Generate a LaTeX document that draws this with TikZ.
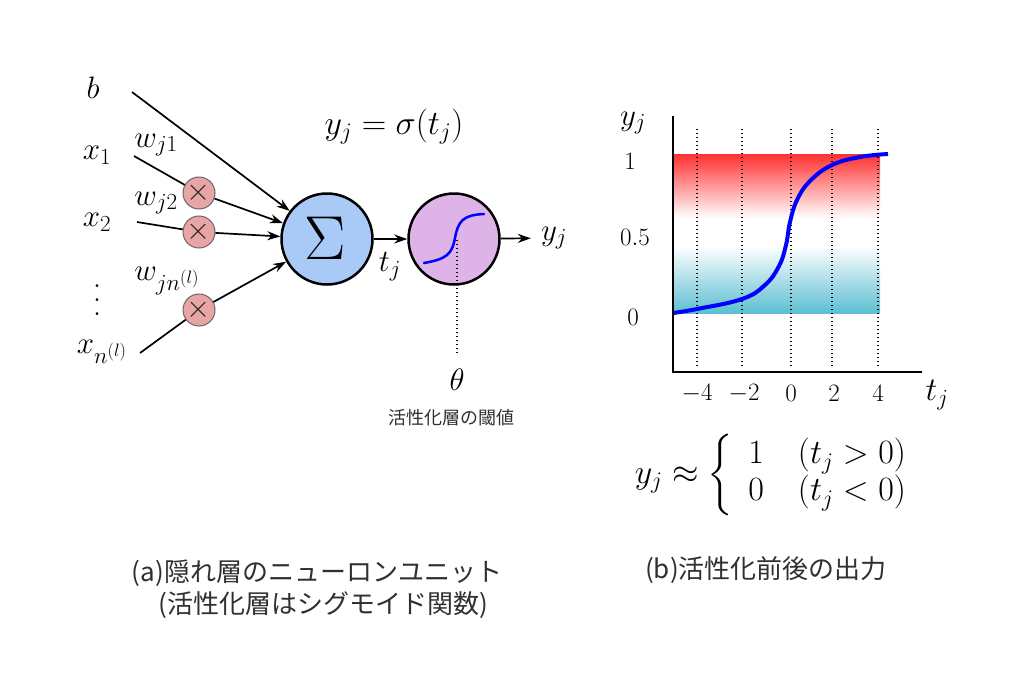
\RequirePackage{fix-cm}
\documentclass[tikz,border=0pt]{standalone}
\usepackage{fontspec}
\usetikzlibrary{arrows.meta}
\DeclareFontShape{OMX}{cmex}{m}{n}{<->cmex10}{}
\DeclareMathSizes{31}{31}{23}{18}
\newfontfamily\jp{Noto Sans CJK JP}
\newcommand\fsz[1]{\fontsize{#1}{#1}\selectfont}
\newcommand\myvdots{\vbox{\baselineskip14pt\lineskiplimit0pt\hbox{.}\hbox{.}\hbox{.}}}
\definecolor{sigblue}{HTML}{A9C9F7}
\definecolor{sigpurple}{HTML}{DDB3E8}
\definecolor{mulpink}{HTML}{E7A5A6}
\definecolor{gradred}{HTML}{FF3030}
\definecolor{gradcyan}{HTML}{5CBED2}
\definecolor{captext}{HTML}{303030}
\begin{document}
\begin{tikzpicture}[x=1pt,y=1pt,
  lbl/.style={inner sep=0pt, font=\fsz{31}},
  ticklbl/.style={inner sep=0pt, font=\fsz{25}},
  captxt/.style={inner sep=0pt, font=\jp\fsz{26}, text=captext},
  wire/.style={line width=1.7pt},
  arr/.style={line width=1.7pt, -{Stealth[length=13pt,width=9pt]}},
  mulc/.style={circle, draw=black!60, line width=1pt, fill=mulpink, minimum size=32pt, inner sep=0pt, font=\fsz{31}, text=black!85},
  bigc/.style={circle, draw=black, line width=2.5pt, minimum size=91pt, inner sep=0pt},
  gridln/.style={line width=1.3pt, dash pattern=on 1.3pt off 2.7pt},
  sigcurve/.style={blue, line width=2.5pt, line cap=round}
]
\useasboundingbox (0,0) rectangle (1024,-694);

% ---------- left: neuron ----------
\node[lbl] (b)  at (93,-88)  {$b$};
\node[lbl] (x1) at (97,-155) {$x_1$};
\node[lbl] (x2) at (97,-222) {$x_2$};
\node[inner sep=0pt, font=\fsz{34}] (vd) at (97,-300) {\myvdots};
\node[lbl] (xn) at (102,-352) {$x_{n^{(l)}}$};

\coordinate (bs)  at (132,-92);
\coordinate (x1s) at (134,-156);
\coordinate (x2s) at (137,-222);
\coordinate (xns) at (140,-353);

\node[lbl] (w1) at (156,-145) {$w_{j1}$};
\node[lbl] (w2) at (156,-203) {$w_{j2}$};
\node[lbl] (wn) at (167,-281) {$w_{jn^{(l)}}$};

\node[bigc, fill=sigblue] (sum) at (327,-239) {};
\node[inner sep=0pt, font=\fsz{62}] (sumsym) at (325,-238) {$\Sigma$};
\node[bigc, fill=sigpurple] (act) at (454,-239) {};

\node[mulc] (m1) at (199,-193) {$\times$};
\node[mulc] (m2) at (199,-232) {$\times$};
\node[mulc] (m3) at (199,-310) {$\times$};

\draw[wire] (x1s) -- (m1);
\draw[wire] (x2s) -- (m2);
\draw[wire] (xns) -- (m3);
\draw[arr] (bs) -- (sum);
\draw[arr] (m1) -- (sum);
\draw[arr] (m2) -- (sum);
\draw[arr] (m3) -- (sum);

\node[lbl] (yout) at (554,-238) {$y_j$};
\draw[arr] (sum) -- (act);
\draw[arr, shorten >=10pt] (act) -- (yout);
\node[lbl] (tj) at (390,-267) {$t_j$};
\node[lbl, font=\fsz{34}] (eq) at (394,-127) {$y_j = \sigma(t_j)$};

\draw[sigcurve] (424,-263) .. controls (447,-259) and (452,-254) .. (455,-238)
           .. controls (458,-222) and (462,-215) .. (484,-214);
\coordinate (thtop) at (457,-240);
\node[lbl] (theta) at (457,-380) {$\theta$};
\draw[gridln, line width=1.1pt] (thtop) -- (457,-355);
\node[inner sep=0pt, font=\jp\fsz{18}, text=captext] (thlbl) at (451,-418) {活性化層の閾値};

% ---------- right: chart ----------
\shade[top color=gradred, bottom color=white] (673,-154) rectangle (880,-218);
\fill[white] (673,-218) rectangle (880,-246);
\shade[top color=white, bottom color=gradcyan] (673,-246) rectangle (880,-313);

\foreach \gx in {697,742,791,832,878}
  \draw[gridln] (\gx,-129) -- (\gx,-367);

\draw[blue, line width=4pt] plot[smooth, tension=0.7] coordinates
  {(673,-313) (697,-309) (742,-299) (765,-285) (779,-266) (786,-245) (790,-222) (797,-200) (810,-181) (832,-165) (860,-157) (888,-154)};

\draw[line width=1.5pt] (673,-116) -- (673,-372) -- (922,-372);

\node[lbl] (ylab) at (633,-123) {$y_j$};
\node[lbl, font=\fsz{33}] (tlab) at (937,-395) {$t_j$};
\node[ticklbl] (v1) at (630,-161) {$1$};
\node[ticklbl] (v05) at (635,-237) {$0.5$};
\node[ticklbl] (v0) at (633,-317) {$0$};
\node[ticklbl] (tm4) at (697,-393) {$-4$};
\node[ticklbl] (tm2) at (744,-393) {$-2$};
\node[ticklbl] (t0) at (791,-393) {$0$};
\node[ticklbl] (t2) at (834,-393) {$2$};
\node[ticklbl] (t4) at (878,-393) {$4$};

\node[inner sep=0pt, font=\fontsize{34}{37}\selectfont] (cases) at (771,-475)
  {$y_j \approx \left\{\begin{array}{@{\hspace{15pt}}l@{\hspace{34pt}}l@{}} 1 & (t_j>0)\\ 0 & (t_j<0)\end{array}\right.$};

% ---------- captions ----------
\node[captxt] (capa1) at (317,-573) {(a)隠れ層のニューロンユニット};
\node[captxt] (capa2) at (323,-605) {(活性化層はシグモイド関数)};
\node[captxt] (capb) at (766,-570) {(b)活性化前後の出力};
\end{tikzpicture}
\end{document}
